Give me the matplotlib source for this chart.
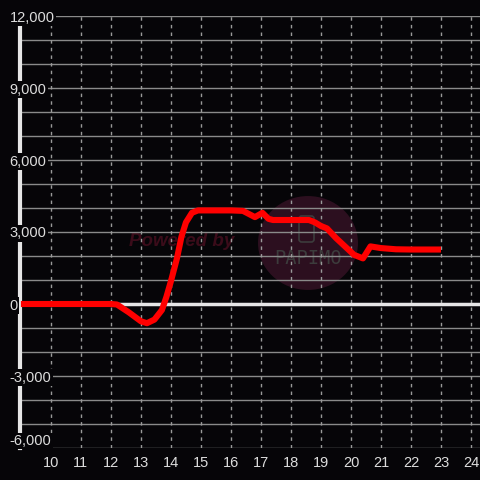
import matplotlib
matplotlib.use("Agg")
import matplotlib.pyplot as plt
from matplotlib.patches import Circle, FancyBboxPatch

# data (hour of day, value)
hours = [9.0, 12.0, 12.2, 12.6, 13.0, 13.2, 13.45, 13.7, 13.85, 14.0, 14.2, 14.35,
         14.5, 14.7, 14.9, 15.2, 16.0, 16.4, 16.6, 16.8, 17.05, 17.25, 17.4,
         18.0, 18.6, 18.8, 19.0, 19.2, 19.5, 19.8, 20.1, 20.4, 20.65, 21.0,
         21.5, 22.0, 23.0]
values = [0, 0, -20, -350, -720, -800, -650, -250, 300, 950, 1900, 2800,
          3400, 3800, 3900, 3900, 3900, 3880, 3750, 3620, 3800, 3550, 3500,
          3500, 3500, 3400, 3250, 3150, 2750, 2400, 2050, 1900, 2400, 2330,
          2280, 2270, 2270]

xticks = list(range(10, 25))
yticks = [-6000, -3000, 0, 3000, 6000, 9000, 12000]
ytick_labels = ["-6,000", "-3,000", "0", "3,000", "6,000", "9,000", "12,000"]

bg = "#060508"
plt.rcParams["font.family"] = ["Liberation Sans", "DejaVu Sans"]

fig = plt.figure(figsize=(4.8, 4.8), dpi=100, facecolor=bg)
ax = fig.add_axes([20 / 480, 32 / 480, 460 / 480, 432 / 480])
ax.set_facecolor(bg)
ax.set_xlim(8.97, 24.3)
ax.set_ylim(-6000, 12000)

# watermark (under the grid)
ax.text(0.351, (448 - 242) / 432, "Powered by", transform=ax.transAxes, ha="center",
        va="center", fontsize=13.5, fontweight="bold", style="italic",
        color="#3b0c1a", zorder=0.5)
circ = Circle((288 / 460, (448 - 243) / 432), 50 / 460, transform=ax.transAxes,
              facecolor="#2c0f1f", edgecolor="none", zorder=0.4)
ax.add_patch(circ)
icon = FancyBboxPatch((279 / 460, (448 - 242) / 432), 15 / 460, 26 / 432,
                      boxstyle="round,pad=0,rounding_size=0.006", transform=ax.transAxes,
                      facecolor="none", edgecolor="#3c3c3c", lw=1.2, zorder=0.5)
ax.add_patch(icon)
ax.text(288 / 460, (448 - 258) / 432, "PAPIMO", transform=ax.transAxes, ha="center",
        va="center", fontsize=13.5, color="#3c3c3c", family="DejaVu Sans Mono",
        zorder=0.5)

# grid
for v in range(-6000, 12001, 1000):
    ax.axhline(v, color="#8a8a8a", lw=1, zorder=1)
for h in xticks:
    ax.axvline(h, color="#9a9a9a", lw=1, ls=(0, (2.5, 3)), zorder=1)
ax.axhline(0, color="#e6e6e6", lw=2.5, zorder=2)

ax.plot(hours, values, color="#ff0000", lw=4.4, solid_capstyle="butt",
        solid_joinstyle="round", zorder=3)

for s in ["top", "right", "bottom"]:
    ax.spines[s].set_visible(False)
ax.spines["left"].set_color("#e6e6e6")
ax.spines["left"].set_linewidth(3)
ax.spines["left"].set_zorder(2.5)

ax.set_xticks(xticks)
ax.set_xticklabels([str(h) for h in xticks])
ax.set_yticks(yticks)
ax.set_yticklabels(ytick_labels)
ax.tick_params(axis="x", length=0, pad=6, colors="#dddddd", labelsize=10.5)
ax.tick_params(axis="y", length=0, pad=7.5, colors="#dddddd", labelsize=10.5)
ax.yaxis.set_zorder(5)
for lab in ax.get_yticklabels():
    lab.set_horizontalalignment("left")
    lab.set_bbox(dict(facecolor=bg, edgecolor="none", pad=1))
ax.get_yticklabels()[0].set_verticalalignment("bottom")

fig.savefig("out.png", dpi=100, facecolor=bg)
